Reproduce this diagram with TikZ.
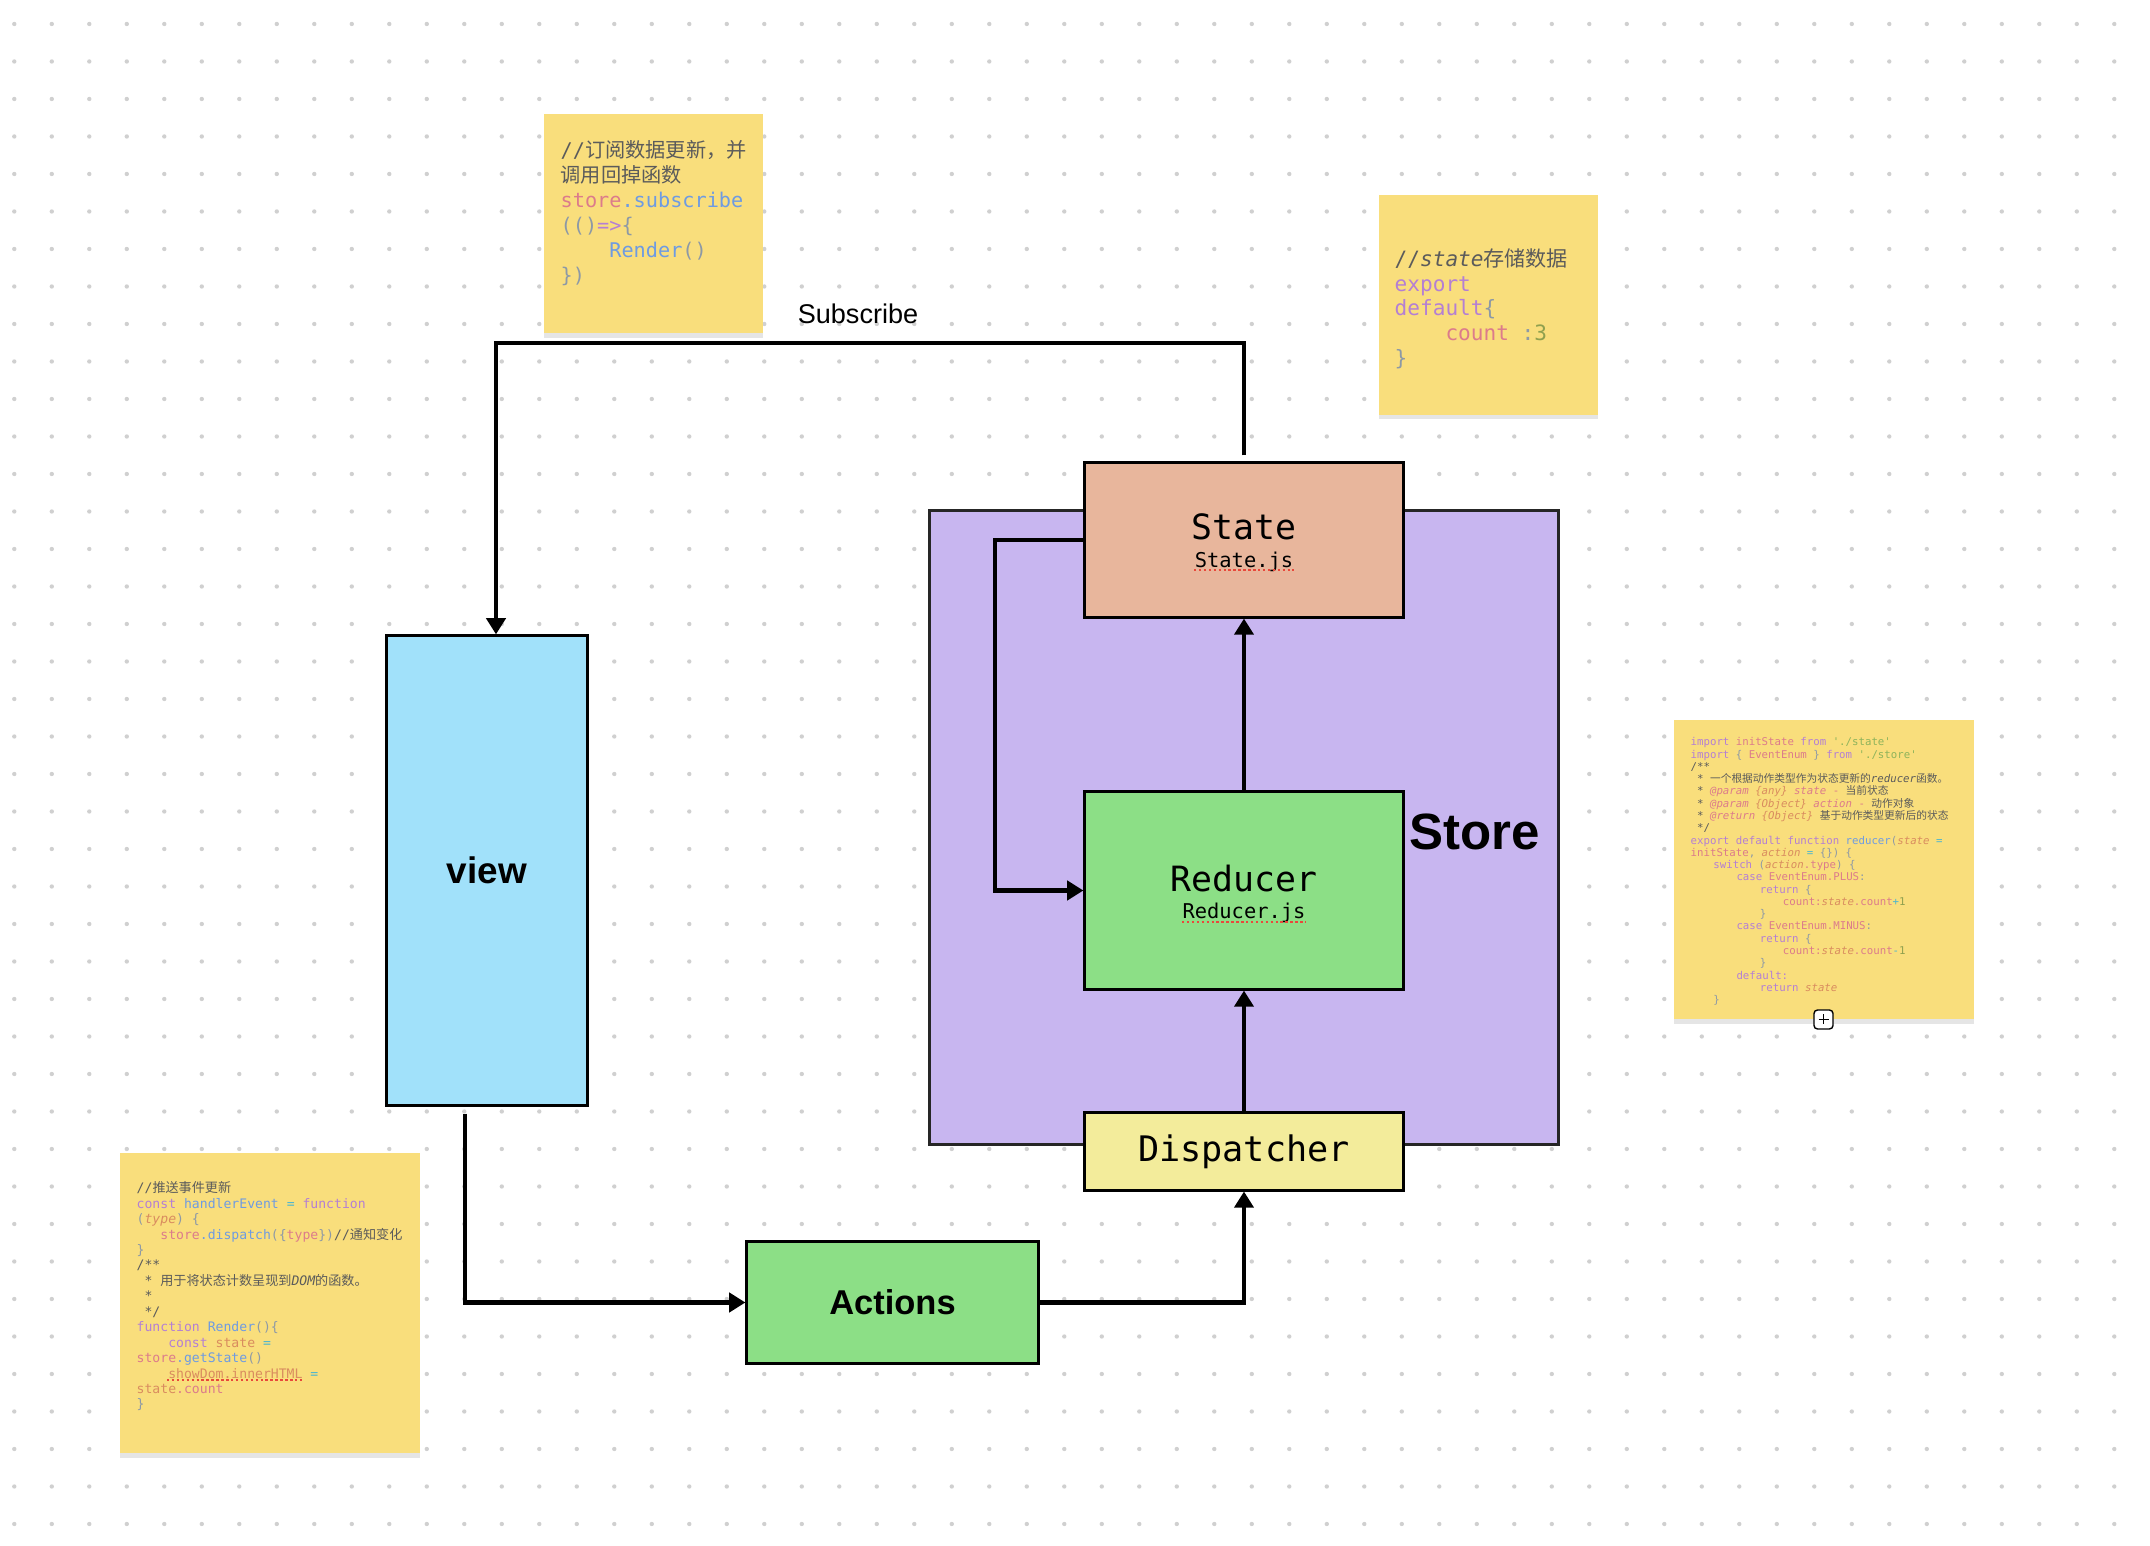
\documentclass[tikz,border=0pt]{standalone}
\usepackage{fontspec}
\setmainfont{Liberation Sans}
\newfontfamily\codefont{DejaVu Sans Mono}
\newfontfamily\cjk{Noto Sans CJK SC}
\usepackage{xcolor}
\usetikzlibrary{arrows.meta,shadows}

\definecolor{notefill}{HTML}{F9DE7C}
\definecolor{storefill}{HTML}{C8B6F0}
\definecolor{statefill}{HTML}{E8B69C}
\definecolor{greenfill}{HTML}{8CDF86}
\definecolor{dispfill}{HTML}{F3EC9B}
\definecolor{viewfill}{HTML}{A1E1FA}
\definecolor{dotgray}{HTML}{D0D0D0}
\definecolor{typored}{HTML}{E8493B}
% code colours
\definecolor{cmt}{HTML}{5B5B5B}
\definecolor{pun}{HTML}{8D99A6}
\definecolor{kwd}{HTML}{B47FD4}
\definecolor{idt}{HTML}{DC7B8B}
\definecolor{fnc}{HTML}{6E9BE2}
\definecolor{nmb}{HTML}{8FA04E}
\definecolor{strg}{HTML}{8DB35B}
\definecolor{opr}{HTML}{4DB6CF}
\definecolor{prm}{HTML}{D98C5F}

\newcommand\ckw[1]{\textcolor{kwd}{#1}}
\newcommand\cid[1]{\textcolor{idt}{#1}}
\newcommand\cfn[1]{\textcolor{fnc}{#1}}
\newcommand\cpu[1]{\textcolor{pun}{#1}}
\newcommand\cnm[1]{\textcolor{nmb}{#1}}
\newcommand\cstr[1]{\textcolor{strg}{#1}}
\newcommand\cop[1]{\textcolor{opr}{#1}}
\newcommand\cvar[1]{\textcolor{prm}{#1}}
\newcommand\cpar[1]{\textcolor{prm}{\itshape #1}}
\newcommand\cdoc[1]{\textcolor{idt}{\itshape #1}}
\newcommand\cind[1]{\hspace*{#1em}}

\tikzset{
  block/.style={
    draw=black,
    line width=0.85pt,
    minimum width=3.18cm,
    inner sep=0pt
  },
  storebox/.style={
    draw=black!85,
    line width=0.8pt,
    fill=storefill,
    minimum width=6.28cm,
    minimum height=6.33cm
  },
  sticky/.style={
    fill=notefill,
    minimum width=2.19cm,
    minimum height=2.19cm,
    inner sep=0pt,
    drop shadow={shadow xshift=0pt, shadow yshift=-1.3pt, opacity=0.2}
  },
  flow/.style={
    line width=1.2pt,
    -{Triangle[length=4.6pt,width=5.4pt]}
  },
  bigmono/.style={
    font={\codefont\fontsize{9.9}{12}\selectfont},
    inner sep=0pt,
    anchor=base
  },
  smallmono/.style={
    font={\codefont\fontsize{5.8}{7}\selectfont},
    inner sep=0pt,
    anchor=base
  },
  code/.style={
    align=left,
    anchor=north west,
    inner sep=0pt,
    text=cmt
  },
  typo/.style={
    draw=typored,
    line width=0.6pt,
    dash pattern=on 0.7pt off 0.7pt
  },
  plusbox/.style={
    draw=black,
    fill=white,
    line width=0.4pt,
    rounded corners=1pt,
    minimum size=0.19cm,
    inner sep=0pt
  }
}

\begin{document}
\begin{tikzpicture}[x=0.01cm,y=-0.01cm]
  \fill[white] (0,0) rectangle (2150,1546);
  \useasboundingbox (0,0) rectangle (2150,1546);

  % dotted canvas
  \foreach \i in {0,...,56}{
    \foreach \j in {0,...,40}{
      \fill[dotgray] (14.3+37.5*\i,24+37.5*\j) circle (0.62pt);
    }
  }

  % Store container and its parts
  \node[storebox] (store) at (1244,827.5) {};
  \node[font=\bfseries\fontsize{14.5}{17}\selectfont, anchor=base, inner sep=0pt] (storelabel) at (1475,850) {Store};

  \node[block, fill=statefill, minimum height=1.54cm] (state) at (1244,540) {};
  \node[bigmono] (statename) at (1244,540) {State};
  \node[smallmono] (statefile) at (1244,568) {State.js};
  \draw[typo] (1194,570) -- (1294,570);

  \node[block, fill=greenfill, minimum height=1.97cm] (reducer) at (1244,890.5) {};
  \node[bigmono] (reducername) at (1244,891.5) {Reducer};
  \node[smallmono] (reducerfile) at (1244,919) {Reducer.js};
  \draw[typo] (1182,922) -- (1306,922);

  \node[block, fill=dispfill, minimum height=0.77cm, font={\codefont\fontsize{10}{12}\selectfont}] (dispatcher) at (1244,1151.5) {Dispatcher};

  % outside the store
  \node[block, fill=viewfill, minimum width=2cm, minimum height=4.69cm, font=\bfseries\fontsize{10.5}{12}\selectfont] (view) at (487,870.5) {view};
  \node[block, fill=greenfill, minimum width=2.91cm, minimum height=1.21cm, font=\bfseries\fontsize{9.8}{12}\selectfont] (actions) at (892.5,1302.5) {Actions};
  \node[font=\fontsize{7.7}{9}\selectfont, anchor=base, inner sep=0pt] (subscribe) at (858,324) {Subscribe};

  % data flow
  \coordinate (subcorner) at (496,343);
  \draw[flow] ([yshift=0.06cm]state.north) |- (subcorner) -- (subcorner |- view.north);
  \coordinate (loopleft) at (995,700);
  \draw[flow] (state.west) -| (loopleft) |- (reducer.west);
  \draw[flow] (reducer.north) -- (state.south);
  \draw[flow] (dispatcher.north) -- (reducer.south);
  \draw[flow] ([xshift=-0.22cm,yshift=-0.07cm]view.south) |- (actions.west);
  \draw[flow] (actions.east) -| (dispatcher.south);

  % sticky notes
  \node[sticky] (subnote) at (653.5,223.5) {};
  \node[code, font={\codefont\fontsize{5.75}{7.1}\selectfont}] (subcode) at (560,140) {%
    //{\cjk 订阅数据更新，并}\\
    {\cjk 调用回掉函数}\\
    \cid{store}\cfn{.subscribe}\\
    \cpu{(()}\ckw{=>}\cpu{\{}\\
    \cind{2.408}\cfn{Render}\cpu{()}\\
    \cpu{\})}};

  \node[sticky] (statenote) at (1488.5,305) {};
  \node[code, font={\codefont\fontsize{6}{7.03}\selectfont}] (statecode) at (1394,248) {%
    //{\itshape state}{\cjk 存储数据}\\
    \ckw{export}\\
    \ckw{default}\cpu{\{}\\
    \cind{2.408}\cid{count} \cpu{:}\cnm{3}\\
    \cpu{\}}};

  \node[sticky, minimum width=3cm, minimum height=2.99cm] (reducernote) at (1824,869.5) {};
  \node[code, font={\codefont\fontsize{3.05}{3.49}\selectfont}] (reducercode) at (1690,737) {%
    \ckw{import} \cid{initState} \ckw{from} \cstr{\textquotesingle./state\textquotesingle}\\
    \ckw{import} \cpu{\{} \cid{EventEnum} \cpu{\}} \ckw{from} \cstr{\textquotesingle./store\textquotesingle}\\
    /**\\
    \cind{0.6}* {\cjk 一个根据动作类型作为状态更新的}{\itshape reducer}{\cjk 函数。}\\
    \cind{0.6}* \cdoc{@param} \cpar{\{any\}} \cdoc{state} \cid{-} {\cjk 当前状态}\\
    \cind{0.6}* \cdoc{@param} \cpar{\{Object\}} \cdoc{action} \cid{-} {\cjk 动作对象}\\
    \cind{0.6}* \cdoc{@return} \cpar{\{Object\}} {\cjk 基于动作类型更新后的状态}\\
    \cind{0.6}*/\\
    \ckw{export default function} \cfn{reducer}\cpu{(}\cpar{state} \cop{=}\\
    \cid{initState}\cpu{,} \cpar{action} \cop{=} \cpu{\{\}) \{}\\
    \cind{2.12}\ckw{switch} \cpu{(}\cpar{action}\cid{.type}\cpu{) \{}\\
    \cind{4.27}\ckw{case} \cid{EventEnum.PLUS}\cpu{:}\\
    \cind{6.45}\ckw{return} \cpu{\{}\\
    \cind{8.6}\cid{count:}\cpar{state}\cid{.count}\cop{+}\cnm{1}\\
    \cind{6.45}\cpu{\}}\\
    \cind{4.27}\ckw{case} \cid{EventEnum.MINUS}\cpu{:}\\
    \cind{6.45}\ckw{return} \cpu{\{}\\
    \cind{8.6}\cid{count:}\cpar{state}\cid{.count}\cop{-}\cnm{1}\\
    \cind{6.45}\cpu{\}}\\
    \cind{4.27}\ckw{default:}\\
    \cind{6.45}\ckw{return} \cpar{state}\\
    \cind{2.12}\cpu{\}}};
  \node[plusbox] (addbtn) at (1823.5,1019.5) {};
  \draw[line width=0.5pt] (addbtn.center) +(-5,0) -- +(5,0);
  \draw[line width=0.5pt] (addbtn.center) +(0,-5) -- +(0,5);

  \node[sticky, minimum width=3cm, minimum height=3cm] (viewnote) at (270,1303) {};
  \node[code, font={\codefont\fontsize{3.73}{4.39}\selectfont}] (viewcode) at (136,1181) {%
    //{\cjk 推送事件更新}\\
    \ckw{const} \cfn{handlerEvent} \cop{=} \ckw{function}\\
    \cpu{(}\cpar{type}\cpu{) \{}\\
    \cind{1.806}\cid{store}\cfn{.dispatch}\cpu{(\{}\cid{type}\cpu{\})}//{\cjk 通知变化}\\
    \cpu{\}}\\
    /**\\
    \cind{0.6}* {\cjk 用于将状态计数呈现到}{\itshape DOM}{\cjk 的函数。}\\
    \cind{0.6}*\\
    \cind{0.6}*/\\
    \ckw{function} \cfn{Render}\cpu{()\{}\\
    \cind{2.408}\ckw{const} \cvar{state} \cop{=}\\
    \cid{store}\cfn{.getState}\cpu{()}\\
    \cind{2.408}\cvar{showDom.innerHTML} \cop{=}\\
    \cvar{state}\cid{.count}\\
    \cpu{\}}};
  \draw[typo, line width=0.5pt] (167,1380) -- (302,1380);

\end{tikzpicture}
\end{document}
